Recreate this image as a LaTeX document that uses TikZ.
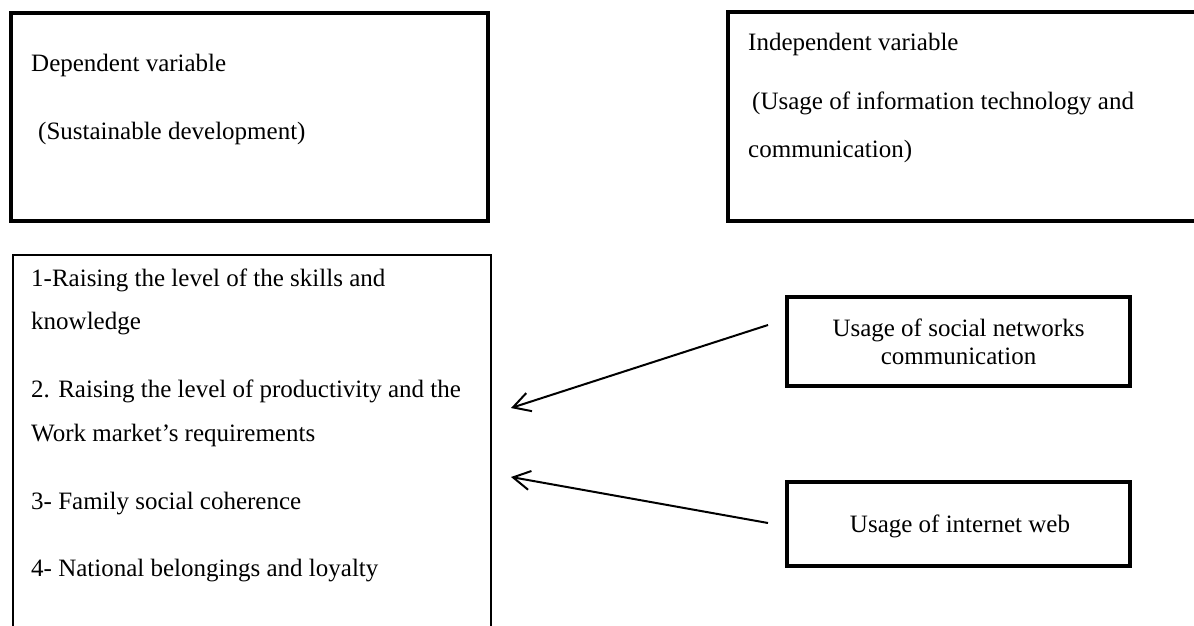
\documentclass[tikz,border=0pt]{standalone}
\usepackage{fontspec}
\setmainfont{Liberation Serif}
\usetikzlibrary{arrows.meta, positioning}
\tikzstyle{block} = [rectangle, inner sep=0pt, outer sep=0pt, anchor=north west]
\tikzstyle{heavy} = [draw, block, line width=4pt]
\tikzstyle{light} = [draw, block, line width=1.3pt]
\tikzstyle{words} = [font=\fontsize{25}{29}\selectfont, inner sep=0pt, anchor=base west]
\tikzstyle{centred} = [words, anchor=base]
\tikzstyle{link} = [-{Straight Barb[length=17pt, width=19pt]}, line width=2pt]

\begin{document}
\begin{tikzpicture}[x=1pt, y=-1pt]
    \useasboundingbox (0,0) rectangle (1194,626);
    \clip (0,0) rectangle (1194,626);

    % Variable boxes.
    \node (dep) [heavy, minimum width=477pt, minimum height=207.5pt] at (11,13) {};
    \node (indep) [heavy, minimum width=480pt, minimum height=208pt] at (727.5,12.5) {};
    \node (items) [light, minimum width=478pt, minimum height=400pt] at (13,255) {};
    \node (social) [heavy, minimum width=343pt, minimum height=88.5pt] at (787,297) {};
    \node (web) [heavy, minimum width=343pt, minimum height=84pt, below=96.5pt of social.south west, anchor=north west] {};

    % Texts.
    \node (deptitle) [words] at (31,72) {Dependent variable};
    \node (depname) [words] at (38,139) {(Sustainable development)};
    \node (indeptitle) [words] at (748,51) {Independent variable};
    \node (indepname1) [words] at (752,110) {(Usage of information technology and};
    \node (indepname2) [words] at (748,157) {communication)};

    \foreach\txt/\yb [count=\i] in {{1-Raising the level of the skills and}/286,
        {knowledge}/329, {2. Raising the level of productivity and the}/397,
        {Work market’s requirements}/441, {3- Family social coherence}/509,
        {4- National belongings and loyalty}/576} {
        \node (item\i) [words] at (31,\yb) {\txt};
    }

    \node (social1) [centred] at (958.5,336) {Usage of social networks};
    \node (social2) [centred] at (958.5,364) {communication};
    \node (webtext) [centred] at (960,532) {Usage of internet web};

    % Arrows.
    \coordinate (from1) at (768,325);
    \coordinate (tip1) at (511,408);
    \coordinate (from2) at (768,523);
    \coordinate (tip2) at (511,477);
    \draw [link] (from1) -- (tip1);
    \draw [link] (from2) -- (tip2);
\end{tikzpicture}
\end{document}
